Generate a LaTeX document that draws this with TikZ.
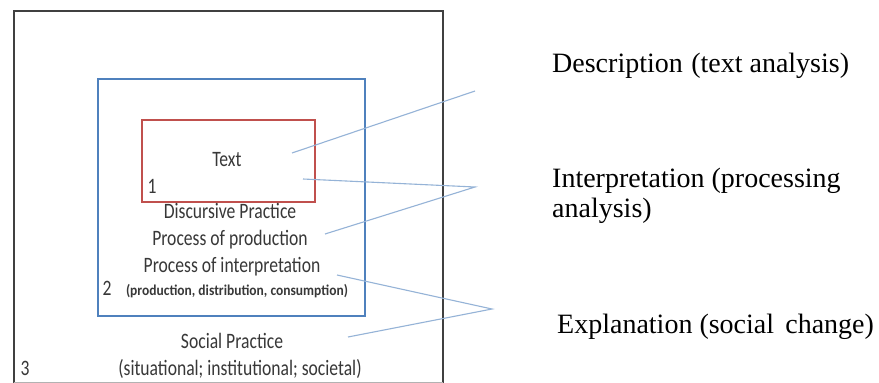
\documentclass[tikz,border=0pt]{standalone}
\usepackage{fontspec}
\setmainfont{Liberation Serif}
\newfontfamily\calib{Carlito}
\definecolor{outergray}{HTML}{404040}
\definecolor{officeblue}{HTML}{4F81BD}
\definecolor{officered}{HTML}{C0504D}
\definecolor{linkblue}{HTML}{95B3D7}
\definecolor{txtgray}{HTML}{383838}
\begin{document}
\begin{tikzpicture}[x=1pt,y=-1pt,
  lbl/.style={font=\calib\fontsize{22}{26}\selectfont, text=txtgray, anchor=base, inner sep=0pt, xscale=0.8},
  smalllbl/.style={font=\calib\bfseries\fontsize{15}{17}\selectfont, text=txtgray, anchor=base, inner sep=0pt, xscale=0.9},
  rlbl/.style={font=\fontsize{28}{31}\selectfont, text=black, anchor=base west, inner sep=0pt},
  link/.style={draw=linkblue, line width=1.1pt}]
\useasboundingbox (0,0) rectangle (879,383);
\fill[white] (0,0) rectangle (879,383);
% outer box
\draw[outergray, line width=2pt] (13.5,382.5) -- (13.5,10.5) -- (442.5,10.5) -- (442.5,382.5);
\draw[gray!60, line width=0.8pt] (13.5,382.3) -- (442.5,382.3);
% boxes
\node[draw=officeblue, line width=2pt, minimum width=267pt, minimum height=237pt, inner sep=0pt, anchor=north west] (disc) at (97,78) {};
\node[draw=officered, line width=2pt, minimum width=173pt, minimum height=82pt, inner sep=0pt, anchor=north west] (textbox) at (141,118.5) {};
% left labels
\node[lbl] (t) at (227,166) {Text};
\node[lbl] (n1) at (152,193) {1};
\node[lbl] (dp) at (230,218) {Discursive Practice};
\node[lbl] (pp) at (230,245) {Process of production};
\node[lbl] (pi) at (232,272) {Process of interpretation};
\node[lbl] (n2) at (107,295) {2};
\node[smalllbl] (pdc) at (237,295) {(production, distribution, consumption)};
\node[lbl] (sp) at (232,348) {Social Practice};
\node[lbl] (sit) at (240,375) {(situational; institutional; societal)};
\node[lbl] (n3) at (25,375) {3};
% right labels
\node[rlbl] (desc) at (552,72) {Description\hspace{0.3em}(text analysis)};
\node[rlbl] (interp) at (552,187) {Interpretation (processing};
\node[rlbl] (interp2) at (552,217) {analysis)};
\node[rlbl] (expl) at (557,333) {Explanation (social\hspace{0.4em}change)};
% connector ends
\coordinate (a1) at (292,153);
\coordinate (aR) at (475,91);
\coordinate (b1) at (303,179);
\coordinate (b2) at (325,234);
\coordinate (bR) at (475,187);
\coordinate (c1) at (337,275);
\coordinate (c2) at (348,337);
\coordinate (cR) at (492,309);
\draw[link] (a1) -- (aR);
\draw[link] (b1) -- (bR) -- (b2);
\draw[link] (c1) -- (cR) -- (c2);
\end{tikzpicture}
\end{document}
